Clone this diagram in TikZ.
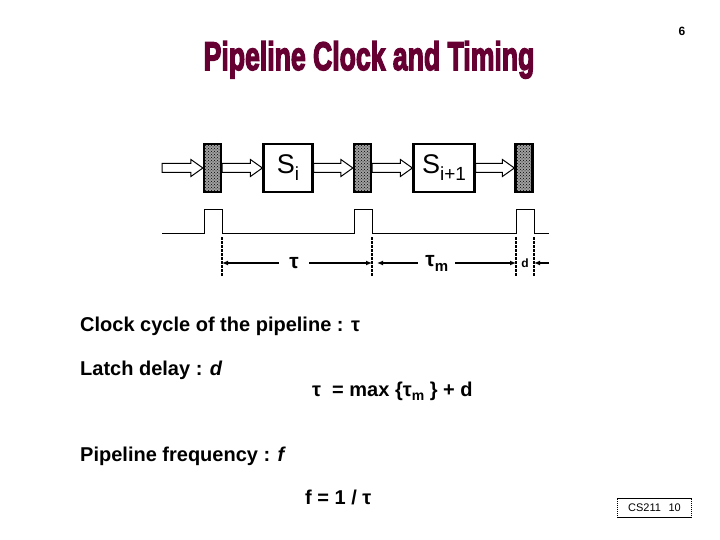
\documentclass[tikz,border=0pt]{standalone}
\usepackage{fontspec}
\setmainfont{Liberation Sans}
\newfontfamily\titlefont{Liberation Sans}[BoldFeatures={FakeBold=4}]
\usetikzlibrary{arrows.meta,patterns,calc}
\definecolor{titlered}{HTML}{660033}
\newcommand\fs[1]{\fontsize{#1}{#1}\selectfont}
\newcommand\sub[3][14]{\raisebox{-#3pt}{\fs{#1}#2}}
% hollow block arrow between two named points
\newcommand\hollowarrow[2]{%
  \draw[line width=1pt, fill=white, line join=miter] let \p1=(#1), \p2=(#2) in
    (\x1,\y1+4.5pt) -- (\x2-12pt,\y1+4.5pt) -- (\x2-12pt,\y1+8.5pt) -- (\x2,\y1)
    -- (\x2-12pt,\y1-8.5pt) -- (\x2-12pt,\y1-4.5pt) -- (\x1,\y1-4.5pt) -- cycle;}
\tikzset{
  latch/.style={draw, line width=2.2pt, preaction={fill=gray!75},
                pattern=crosshatch dots, pattern color=black,
                minimum width=17pt, minimum height=48pt, inner sep=0pt},
  stage/.style={draw, line width=2.2pt, fill=white, minimum height=48pt,
                inner sep=0pt, font=\fs{27}},
  marker/.style={line width=2.6pt, dash pattern=on 2.5pt off 1.5pt},
  dimline/.style={line width=1.4pt},
  tip/.style={-{Latex[length=6pt,width=5pt]}},
  body/.style={anchor=base west, inner sep=0pt, font=\fs{20}\bfseries},
}
\begin{document}
\begin{tikzpicture}[x=1pt, y=-1pt]
  \useasboundingbox (0,0) rectangle (720,540);
  % title and page number
  \node[anchor=base, inner sep=0pt, text=titlered] (title) at (369,70)
    {\scalebox{0.7}[1.05]{\titlefont\bfseries\fs{38}Pipeline Clock and Timing}};
  \node[font=\fs{12}\bfseries, inner sep=0pt] (page) at (682,31) {6};

  % pipeline stages and latches
  \coordinate (in) at (162,168);
  \node[latch] (l1) at (212.5,168) {};
  \node[stage, minimum width=49pt] (si) at (288,168) {S\sub[19]{i}{7}};
  \node[latch] (l2) at (362.5,168) {};
  \node[stage, minimum width=61pt] (sj) at (444,168) {S\sub[19]{i+1}{7}};
  \node[latch] (l3) at (524,168) {};
  \hollowarrow{in}{l1.west}
  \hollowarrow{l1.east}{si.west}
  \hollowarrow{si.east}{l2.west}
  \hollowarrow{l2.east}{sj.west}
  \hollowarrow{sj.east}{l3.west}

  % clock
  \draw[line width=1pt] (162,233) -- (204,233) -- (204,210) -- (222,210) -- (222,233)
    -- (354,233) -- (354,210) -- (372,210) -- (372,233)
    -- (516,233) -- (516,210) -- (534,210) -- (534,233) -- (549,233);

  % timing markers
  \foreach \x/\n in {222/a1, 372/a2, 516/a3, 534/a4} {
    \draw[marker] (\x,237) -- (\x,276);
    \coordinate (\n) at (\x,263);
  }
  \coordinate (aend) at (549,263);
  \draw[dimline, tip] (a1) ++(4,0) coordinate (a1r) -- (a1);
  \draw[dimline] (a1r) -- node[pos=0.48, fill=white, inner xsep=10pt, font=\fs{21}\bfseries] (tau) {τ} ($(a2)+(-4,0)$);
  \draw[dimline, tip] ($(a2)+(-4,0)$) -- (a2);
  \draw[dimline, tip] ($(a2)+(11,0)$) -- ($(a2)+(5,0)$);
  \draw[dimline] ($(a2)+(11,0)$) -- node[pos=0.42, fill=white, inner xsep=7pt, font=\fs{21}\bfseries] (taum) {τ\sub[15]{m}{5}} ($(a3)+(-5,0)$);
  \draw[dimline, tip] ($(a3)+(-5,0)$) -- (a3);
  \node[font=\fs{12}\bfseries, inner sep=0pt] (dlab) at (525,263) {d};
  \draw[dimline, tip] (aend) -- (a4);

  % text
  \node[body] (cyc) at (80,331) {Clock cycle of the pipeline : τ};
  \node[body] (lat) at (80,375) {Latch delay : \textit{d}};
  \node[body] (eqn) at (312,396) {τ\ \ = max \{τ\sub{m}{4}\ \} + d};
  \node[body] (frq) at (80,461) {Pipeline frequency : \textit{f}};
  \node[body] (inv) at (305,504) {f = 1 / τ};

  % slide tag
  \node[minimum width=74pt, minimum height=18pt, inner sep=0pt, font=\fs{11}] (tag) at (654.5,508) {CS211\hspace{0.7em}10};
  \draw[line width=0.8pt] (tag.north west) -- (tag.north east) (tag.south west) -- (tag.south east);
  \draw[line width=1.2pt, dash pattern=on 1pt off 1pt] (tag.north west) -- (tag.south west) (tag.north east) -- (tag.south east);
\end{tikzpicture}
\end{document}
